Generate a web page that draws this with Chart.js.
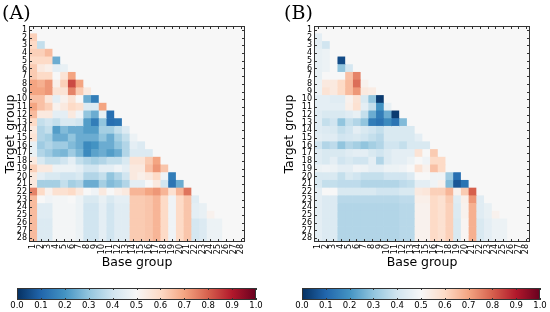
<!DOCTYPE html>
<html>
<head>
<meta charset="utf-8">
<script src="https://cdn.jsdelivr.net/npm/chart.js@4.4.1/dist/chart.umd.min.js"></script>
<style>
  html, body { margin: 0; padding: 0; background: #fff; }
  #wrap { position: relative; width: 550px; height: 312px; overflow: hidden; }
  canvas { position: absolute; }
  .panel { position: absolute; top: 1px; font-family: "DejaVu Serif", "Liberation Serif", serif; font-size: 19px; color: #000; }
</style>
</head>
<body>
<div id="wrap">
  <canvas id="heatA" width="275" height="280" style="left:0;top:0"></canvas>
  <canvas id="heatB" width="275" height="280" style="left:275px;top:0"></canvas>
  <canvas id="cbA" width="275" height="32" style="left:0;top:280px"></canvas>
  <canvas id="cbB" width="275" height="32" style="left:275px;top:280px"></canvas>
  <div class="panel" style="left:2px">(A)</div>
  <div class="panel" style="left:284px">(B)</div>
</div>
<script>
// group labels (rows = target group, columns = base group)
const groupLabels = ['1','2','3','4','5','6','7','8','9','10','11','12','13','14',
  '15','16','17','18','19','20','21','22','23','24','25','26','27','28'];

// panel A, row by row (row i holds base groups 1..i-1)
const valuesA = [
  [],
  [0.62],
  [0.60, 0.38],
  [0.62, 0.62, 0.66],
  [0.60, 0.60, 0.60, 0.25],
  [0.63, 0.55, 0.53, 0.45, 0.46],
  [0.63, 0.60, 0.60, 0.50, 0.57, 0.70],
  [0.70, 0.68, 0.72, 0.53, 0.62, 0.83, 0.70],
  [0.70, 0.70, 0.72, 0.57, 0.57, 0.75, 0.63, 0.55],
  [0.65, 0.65, 0.56, 0.45, 0.52, 0.57, 0.50, 0.25, 0.15],
  [0.70, 0.65, 0.62, 0.52, 0.55, 0.60, 0.58, 0.43, 0.43, 0.70],
  [0.66, 0.55, 0.55, 0.45, 0.45, 0.55, 0.48, 0.30, 0.25, 0.46, 0.12],
  [0.60, 0.38, 0.40, 0.38, 0.42, 0.42, 0.40, 0.22, 0.15, 0.30, 0.12, 0.13],
  [0.55, 0.35, 0.38, 0.22, 0.28, 0.25, 0.25, 0.22, 0.22, 0.33, 0.33, 0.38, 0.43],
  [0.57, 0.35, 0.33, 0.25, 0.25, 0.30, 0.25, 0.25, 0.25, 0.30, 0.25, 0.33, 0.38, 0.47],
  [0.46, 0.32, 0.35, 0.32, 0.32, 0.28, 0.25, 0.18, 0.20, 0.25, 0.25, 0.30, 0.35, 0.45, 0.43],
  [0.46, 0.35, 0.32, 0.28, 0.27, 0.32, 0.27, 0.18, 0.23, 0.25, 0.22, 0.25, 0.35, 0.43, 0.43, 0.43],
  [0.55, 0.42, 0.38, 0.38, 0.40, 0.45, 0.38, 0.35, 0.33, 0.35, 0.38, 0.38, 0.42, 0.57, 0.57, 0.63, 0.70],
  [0.62, 0.55, 0.55, 0.47, 0.47, 0.47, 0.45, 0.40, 0.40, 0.45, 0.45, 0.48, 0.45, 0.55, 0.55, 0.65, 0.72, 0.64],
  [0.55, 0.45, 0.42, 0.42, 0.40, 0.40, 0.42, 0.35, 0.35, 0.38, 0.30, 0.35, 0.40, 0.55, 0.53, 0.55, 0.60, 0.48, 0.15],
  [0.55, 0.33, 0.33, 0.33, 0.38, 0.33, 0.35, 0.25, 0.25, 0.33, 0.28, 0.30, 0.35, 0.45, 0.45, 0.50, 0.55, 0.40, 0.13, 0.25],
  [0.75, 0.60, 0.52, 0.58, 0.58, 0.60, 0.55, 0.50, 0.48, 0.55, 0.50, 0.53, 0.55, 0.67, 0.67, 0.70, 0.72, 0.67, 0.58, 0.67, 0.77],
  [0.66, 0.50, 0.48, 0.49, 0.49, 0.50, 0.47, 0.42, 0.42, 0.46, 0.42, 0.45, 0.45, 0.63, 0.63, 0.64, 0.67, 0.60, 0.48, 0.60, 0.64, 0.44],
  [0.66, 0.44, 0.44, 0.49, 0.49, 0.49, 0.47, 0.40, 0.40, 0.45, 0.40, 0.44, 0.44, 0.63, 0.63, 0.64, 0.67, 0.60, 0.48, 0.60, 0.64, 0.45, 0.46],
  [0.66, 0.44, 0.44, 0.49, 0.49, 0.49, 0.47, 0.40, 0.40, 0.45, 0.40, 0.44, 0.44, 0.63, 0.63, 0.64, 0.67, 0.60, 0.48, 0.60, 0.64, 0.45, 0.46, 0.52],
  [0.66, 0.43, 0.43, 0.49, 0.49, 0.49, 0.47, 0.40, 0.40, 0.45, 0.40, 0.44, 0.44, 0.63, 0.63, 0.64, 0.67, 0.60, 0.48, 0.60, 0.64, 0.41, 0.43, 0.47, 0.47],
  [0.66, 0.43, 0.43, 0.49, 0.49, 0.49, 0.47, 0.40, 0.40, 0.45, 0.40, 0.44, 0.44, 0.63, 0.63, 0.64, 0.67, 0.60, 0.48, 0.60, 0.64, 0.41, 0.43, 0.47, 0.47, 0.50],
  [0.66, 0.43, 0.43, 0.49, 0.49, 0.49, 0.47, 0.40, 0.40, 0.45, 0.40, 0.44, 0.44, 0.63, 0.63, 0.64, 0.67, 0.60, 0.48, 0.60, 0.64, 0.41, 0.43, 0.47, 0.47, 0.50, 0.50]
];

// panel B
const valuesB = [
  [],
  [0.45],
  [0.45, 0.40],
  [0.46, 0.47, 0.50],
  [0.46, 0.47, 0.50, 0.05],
  [0.46, 0.47, 0.50, 0.30, 0.41],
  [0.46, 0.50, 0.50, 0.50, 0.65, 0.75],
  [0.47, 0.55, 0.55, 0.60, 0.66, 0.78, 0.52],
  [0.47, 0.57, 0.55, 0.60, 0.66, 0.72, 0.55, 0.54],
  [0.45, 0.45, 0.44, 0.44, 0.52, 0.57, 0.42, 0.30, 0.02],
  [0.45, 0.45, 0.45, 0.45, 0.53, 0.58, 0.45, 0.38, 0.20, 0.46],
  [0.44, 0.42, 0.42, 0.42, 0.44, 0.46, 0.38, 0.25, 0.15, 0.25, 0.02],
  [0.44, 0.38, 0.40, 0.30, 0.38, 0.35, 0.30, 0.15, 0.13, 0.18, 0.13, 0.28],
  [0.44, 0.43, 0.42, 0.38, 0.40, 0.45, 0.42, 0.40, 0.38, 0.42, 0.42, 0.42, 0.42],
  [0.45, 0.44, 0.44, 0.40, 0.41, 0.42, 0.40, 0.38, 0.36, 0.42, 0.42, 0.42, 0.42, 0.45],
  [0.40, 0.35, 0.37, 0.30, 0.35, 0.33, 0.30, 0.33, 0.35, 0.40, 0.40, 0.38, 0.42, 0.42, 0.42],
  [0.44, 0.42, 0.42, 0.42, 0.44, 0.45, 0.45, 0.42, 0.40, 0.43, 0.45, 0.45, 0.45, 0.57, 0.50, 0.63],
  [0.44, 0.42, 0.45, 0.40, 0.42, 0.40, 0.40, 0.45, 0.35, 0.43, 0.45, 0.45, 0.47, 0.50, 0.48, 0.60, 0.60],
  [0.47, 0.48, 0.47, 0.45, 0.45, 0.48, 0.47, 0.45, 0.45, 0.47, 0.47, 0.48, 0.50, 0.57, 0.52, 0.65, 0.60, 0.50],
  [0.42, 0.42, 0.42, 0.38, 0.42, 0.40, 0.38, 0.38, 0.38, 0.40, 0.40, 0.40, 0.43, 0.50, 0.50, 0.48, 0.48, 0.32, 0.12],
  [0.42, 0.38, 0.38, 0.37, 0.37, 0.37, 0.35, 0.35, 0.35, 0.35, 0.35, 0.37, 0.38, 0.45, 0.45, 0.48, 0.52, 0.28, 0.07, 0.13],
  [0.45, 0.50, 0.50, 0.42, 0.42, 0.42, 0.42, 0.42, 0.40, 0.40, 0.40, 0.42, 0.42, 0.55, 0.56, 0.62, 0.62, 0.67, 0.52, 0.63, 0.80],
  [0.45, 0.43, 0.43, 0.36, 0.36, 0.36, 0.36, 0.36, 0.36, 0.36, 0.36, 0.37, 0.37, 0.53, 0.53, 0.60, 0.58, 0.63, 0.44, 0.53, 0.72, 0.44],
  [0.45, 0.43, 0.43, 0.35, 0.35, 0.35, 0.35, 0.35, 0.35, 0.35, 0.35, 0.36, 0.36, 0.52, 0.52, 0.60, 0.58, 0.62, 0.43, 0.52, 0.68, 0.44, 0.46],
  [0.45, 0.43, 0.43, 0.35, 0.35, 0.35, 0.35, 0.35, 0.35, 0.35, 0.35, 0.36, 0.36, 0.52, 0.52, 0.60, 0.58, 0.62, 0.43, 0.52, 0.68, 0.44, 0.46, 0.52],
  [0.45, 0.43, 0.43, 0.35, 0.35, 0.35, 0.35, 0.35, 0.35, 0.35, 0.35, 0.36, 0.36, 0.52, 0.52, 0.60, 0.58, 0.62, 0.42, 0.51, 0.68, 0.42, 0.45, 0.47, 0.47],
  [0.45, 0.43, 0.43, 0.35, 0.35, 0.35, 0.35, 0.35, 0.35, 0.35, 0.35, 0.36, 0.36, 0.52, 0.52, 0.60, 0.58, 0.62, 0.42, 0.51, 0.68, 0.42, 0.45, 0.47, 0.47, 0.50],
  [0.45, 0.43, 0.43, 0.35, 0.35, 0.35, 0.35, 0.35, 0.35, 0.35, 0.35, 0.36, 0.36, 0.52, 0.52, 0.60, 0.58, 0.62, 0.42, 0.51, 0.68, 0.42, 0.45, 0.47, 0.47, 0.50, 0.50]
];

const colorbarTicks = [0.0, 0.1, 0.2, 0.3, 0.4, 0.5, 0.6, 0.7, 0.8, 0.9, 1.0];

// RdBu_r
const rdbu = ['#053061', '#2166ac', '#4393c3', '#92c5de', '#d1e5f0', '#f7f7f7',
  '#fddbc7', '#f4a582', '#d6604d', '#b2182b', '#67001f'];

function hexRgb(h) {
  return [1, 3, 5].map(i => parseInt(h.slice(i, i + 2), 16));
}

function colorAt(v) {
  const t = Math.min(Math.max(v, 0), 1) * (rdbu.length - 1);
  const i = Math.min(Math.floor(t), rdbu.length - 2);
  const f = t - i;
  const a = hexRgb(rdbu[i]), b = hexRgb(rdbu[i + 1]);
  const c = a.map((x, k) => Math.round(x + (b[k] - x) * f));
  return `rgb(${c[0]},${c[1]},${c[2]})`;
}

Chart.defaults.font.family = '"DejaVu Sans", sans-serif';
Chart.defaults.color = '#000';
Chart.defaults.animation = false;

// frame with inward ticks, like the matplotlib axes
const frameTicks = {
  id: 'frameTicks',
  beforeDatasetsDraw(chart, args, opts) {
    if (!opts.bg) return;
    const { ctx, chartArea: a } = chart;
    ctx.save();
    ctx.fillStyle = opts.bg;
    ctx.fillRect(a.left, a.top, a.width, a.height);
    ctx.restore();
  },
  afterDatasetsDraw(chart, args, opts) {
    const { ctx, chartArea: a, scales } = chart;
    const len = opts.len || 3;
    ctx.save();
    ctx.strokeStyle = '#333';
    ctx.lineWidth = 1;
    ctx.beginPath();
    scales.x.ticks.forEach(t => {
      const px = Math.round(scales.x.getPixelForValue(t.value)) + 0.5;
      ctx.moveTo(px, a.bottom); ctx.lineTo(px, a.bottom - len);
      ctx.moveTo(px, a.top); ctx.lineTo(px, a.top + len);
    });
    if (opts.yTicks) {
      scales.y.ticks.forEach((t, i) => {
        const py = Math.round(scales.y.getPixelForTick(i)) + 0.5;
        ctx.moveTo(a.left, py); ctx.lineTo(a.left + len, py);
        ctx.moveTo(a.right, py); ctx.lineTo(a.right - len, py);
      });
    }
    ctx.stroke();
    ctx.strokeRect(Math.round(a.left) + 0.5, Math.round(a.top) + 0.5,
      Math.round(a.width) - 1, Math.round(a.height) - 1);
    ctx.restore();
  }
};

function heatDatasets(values) {
  return groupLabels.map((_, j) => ({
    label: groupLabels[j],
    data: groupLabels.map((_, i) => values[i][j] == null ? null : [j + 0.5, j + 1.5]),
    backgroundColor: groupLabels.map((_, i) => values[i][j] == null ? 'rgba(0,0,0,0)' : colorAt(values[i][j])),
    borderWidth: 0,
    grouped: false,
    barPercentage: 1,
    categoryPercentage: 1
  }));
}

function renderHeatmap(id, values, pad, yWidth, yTitlePad) {
  new Chart(document.getElementById(id), {
    type: 'bar',
    data: { labels: groupLabels, datasets: heatDatasets(values) },
    options: {
      indexAxis: 'y',
      responsive: false,
      layout: { padding: pad },
      plugins: {
        legend: { display: false },
        tooltip: { enabled: false },
        frameTicks: { bg: '#f7f7f7', len: 3, yTicks: true }
      },
      scales: {
        x: {
          type: 'linear',
          min: 0.5,
          max: 28.5,
          grid: { display: false, drawTicks: false },
          border: { display: false },
          afterBuildTicks: s => { s.ticks = groupLabels.map((_, i) => ({ value: i + 1 })); },
          afterFit: s => { s.height = 38; },
          ticks: {
            autoSkip: false, minRotation: 90, maxRotation: 90, padding: 2,
            font: { size: 8 },
            callback: v => groupLabels[v - 1]
          },
          title: { display: true, text: 'Base group', font: { size: 12.5 }, padding: { top: 0, bottom: 9.5 } }
        },
        y: {
          grid: { display: false, drawTicks: false },
          border: { display: false },
          afterFit: s => { s.width = yWidth; },
          ticks: { autoSkip: false, padding: 2, font: { size: 8 } },
          title: { display: true, text: 'Target group', font: { size: 12.5 }, padding: { top: yTitlePad, bottom: 0 } }
        }
      }
    },
    plugins: [frameTicks]
  });
}

function renderColorbar(id, pad) {
  new Chart(document.getElementById(id), {
    type: 'bar',
    data: {
      labels: ['scale'],
      datasets: [{
        data: [[0, 1]],
        backgroundColor: c => {
          const a = c.chart.chartArea;
          if (!a) return null;
          const g = c.chart.ctx.createLinearGradient(a.left, 0, a.right, 0);
          rdbu.forEach((col, i) => g.addColorStop(i / (rdbu.length - 1), col));
          return g;
        },
        borderWidth: 0,
        barPercentage: 1,
        categoryPercentage: 1
      }]
    },
    options: {
      indexAxis: 'y',
      responsive: false,
      layout: { padding: pad },
      plugins: {
        legend: { display: false },
        tooltip: { enabled: false },
        frameTicks: { len: 2, yTicks: false }
      },
      scales: {
        x: {
          type: 'linear',
          min: 0,
          max: 1,
          grid: { display: false, drawTicks: false },
          border: { display: false },
          afterBuildTicks: s => { s.ticks = colorbarTicks.map(v => ({ value: v })); },
          afterFit: s => { s.height = 12; },
          ticks: { padding: 1, font: { size: 8.5 }, callback: v => v.toFixed(1) }
        },
        y: { display: false }
      }
    },
    plugins: [frameTicks]
  });
}

renderHeatmap('heatA', valuesA, { top: 26, right: 30, left: 0, bottom: 0 }, 29, 3);
renderHeatmap('heatB', valuesB, { top: 26, right: 20, left: 6, bottom: 0 }, 33, 1.5);
renderColorbar('cbA', { top: 8, right: 19, left: 17, bottom: 0 });
renderColorbar('cbB', { top: 8, right: 10, left: 27, bottom: 0 });
</script>
</body>
</html>
